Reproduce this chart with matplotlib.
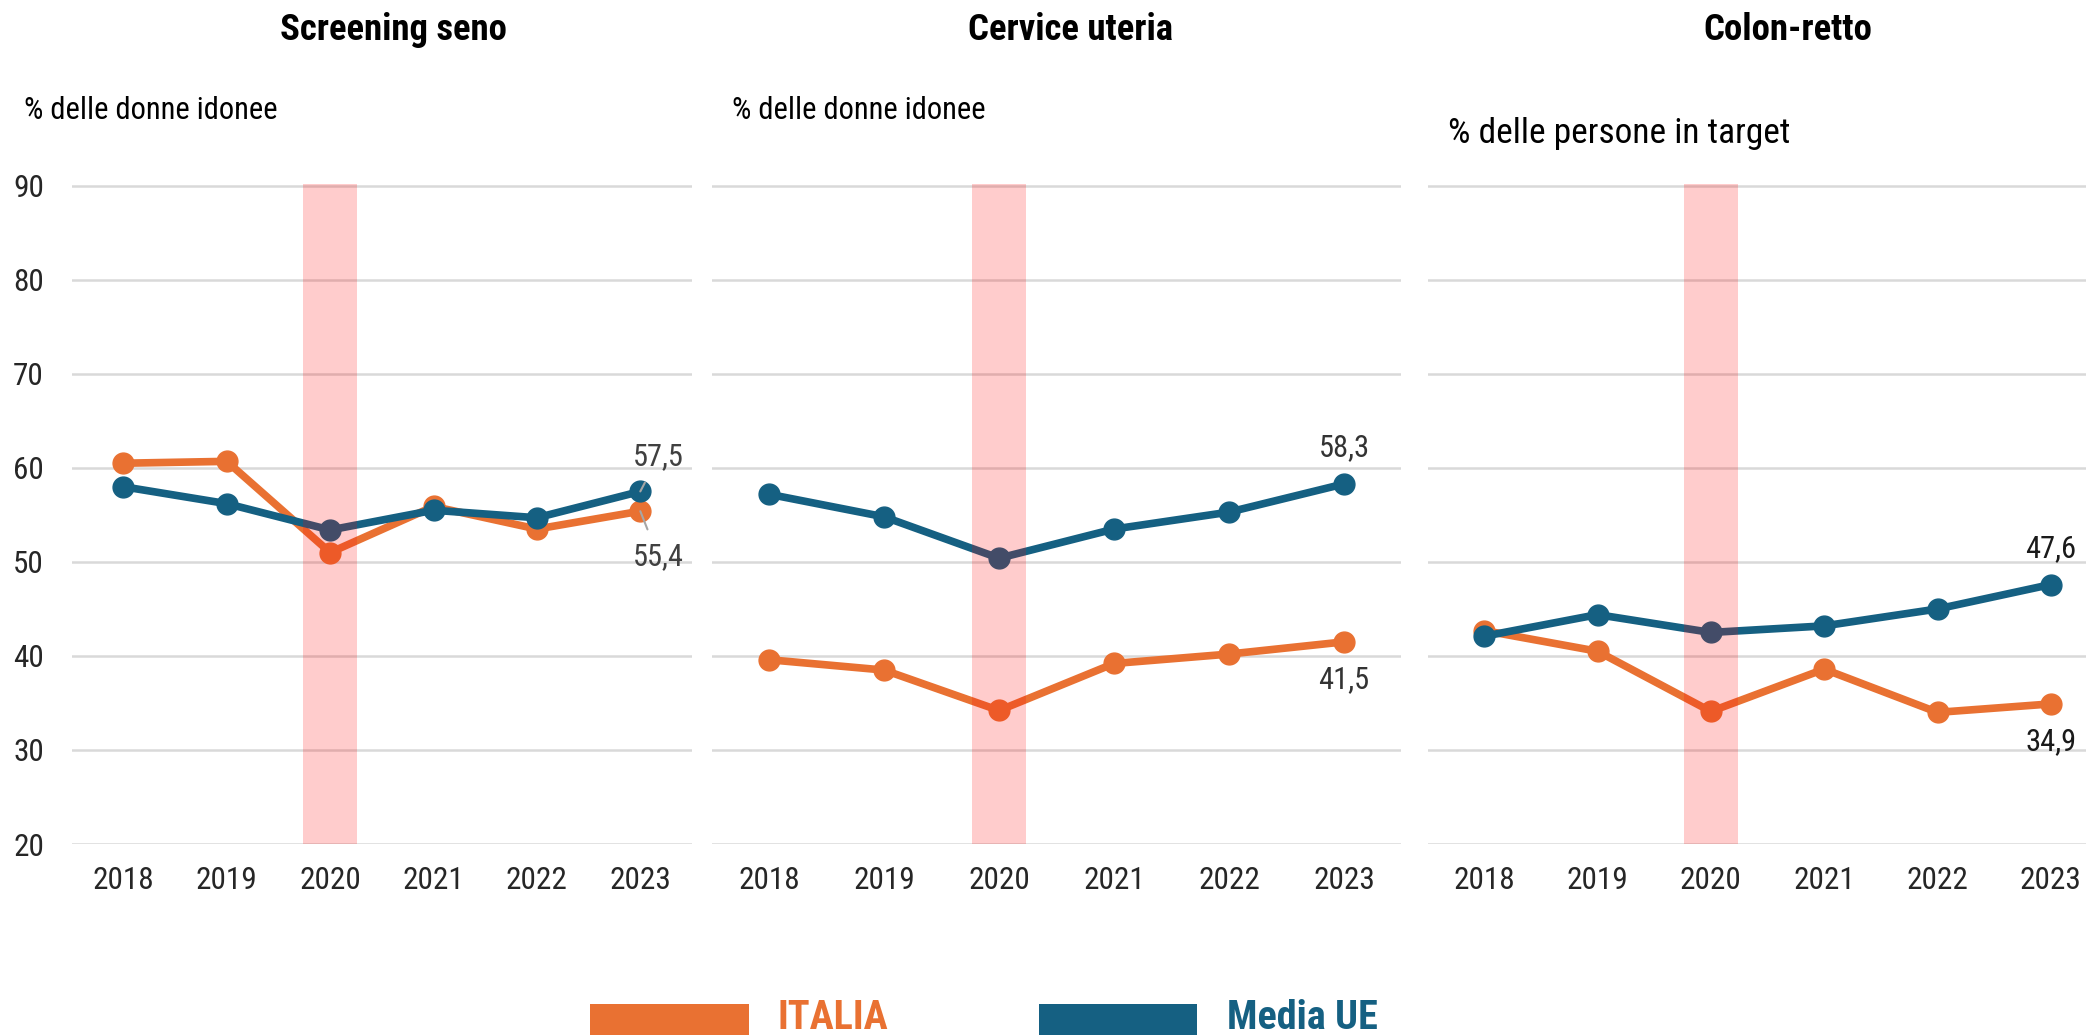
import matplotlib
matplotlib.use("Agg")
import matplotlib.pyplot as plt
from matplotlib.patches import Rectangle

plt.rcParams['font.family'] = ['Roboto Condensed', 'Liberation Sans', 'DejaVu Sans']

# dati
anni = ['2018', '2019', '2020', '2021', '2022', '2023']
seno_italia = [60.5, 60.7, 51.0, 55.9, 53.5, 55.4]
seno_ue = [58.0, 56.2, 53.4, 55.5, 54.7, 57.5]
cervice_italia = [39.6, 38.5, 34.2, 39.2, 40.2, 41.5]
cervice_ue = [57.2, 54.8, 50.4, 53.5, 55.3, 58.3]
colon_italia = [42.7, 40.5, 34.1, 38.6, 34.0, 34.9]
colon_ue = [42.1, 44.4, 42.5, 43.2, 45.0, 47.6]

titoli = ['Screening seno', 'Cervice uteria', 'Colon-retto']
etichette_y = ['% delle donne idonee', '% delle donne idonee', '% delle persone in target']
anno_covid = '2020'
yticks = [20, 30, 40, 50, 60, 70, 80, 90]

ARANCIO = '#E97132'
BLU = '#156082'
GRIGIO = '#D9D9D9'

W, H = 2086, 1035
fig = plt.figure(figsize=(W / 100, H / 100), dpi=100)

# posizioni dei pannelli in pixel: (sinistra, destra, xmax)
pannelli = [(71.7, 692.0, 5.5), (711.6, 1401.5, 5.5), (1427.5, 2086.0, 5.31)]
ax_bottom, ax_top = 844, 184
serie = [(seno_italia, seno_ue), (cervice_italia, cervice_ue), (colon_italia, colon_ue)]
col_testo = ['#404040', '#333333', '#1a1a1a']
titolo_x = [393, 1070, 1788]
label_pos = [(24, 119, 22), (732, 119, 22), (1448, 143, 25.5)]
FS = 22.5

for k, ((l, r, xmax), (ita, ue)) in enumerate(zip(pannelli, serie)):
    ax = fig.add_axes([l / W, 1 - ax_bottom / H, (r - l) / W, (ax_bottom - ax_top) / H])
    x = list(range(len(anni)))
    ax.set_xlim(-0.5, xmax)
    ax.set_ylim(20, 90.2)
    for y in yticks:
        ax.axhline(y, color=GRIGIO, lw=1.8, zorder=1)

    ax.plot(x, ita, color=ARANCIO, lw=5.5, marker='o', ms=15, zorder=3, solid_capstyle='round')
    ax.plot(x, ue, color=BLU, lw=5.5, marker='o', ms=15, zorder=4, solid_capstyle='round')

    # banda 2020 (larghezza ~54 px)
    i20 = anni.index(anno_covid)
    px_per_unit = (r - l) / (xmax + 0.5)
    half = 27 / px_per_unit
    ax.axvspan(i20 - half, i20 + half, ymin=0, ymax=1, color='red', alpha=0.2, lw=0, zorder=5)

    ax.set_xticks(x)
    ax.set_xticklabels(anni)
    ax.tick_params(axis='x', length=0, pad=16, labelsize=FS, labelcolor='#262626')
    if k == 0:
        ax.set_yticks(yticks)
        ax.tick_params(axis='y', length=0, pad=20, labelsize=FS, labelcolor='#262626')
    else:
        ax.set_yticks([])
    for s in ax.spines.values():
        s.set_visible(False)

    fmt = lambda v: f"{v:.1f}".replace('.', ',')
    c = col_testo[k]
    fa = 22
    if k == 0:
        ax.annotate(fmt(ue[-1]), xy=(x[-1], ue[-1]), xytext=(13, 25), textcoords='offset points',
                    ha='center', va='center', fontsize=fa, color=c, zorder=6,
                    arrowprops=dict(arrowstyle='-', color='#A6A6A6', lw=1.5, shrinkA=7, shrinkB=0))
        ax.annotate(fmt(ita[-1]), xy=(x[-1], ita[-1]), xytext=(13, -33), textcoords='offset points',
                    ha='center', va='center', fontsize=fa, color=c, zorder=6,
                    arrowprops=dict(arrowstyle='-', color='#A6A6A6', lw=1.5, shrinkA=8, shrinkB=0))
    else:
        ax.annotate(fmt(ue[-1]), xy=(x[-1], ue[-1]), xytext=(0, 26), textcoords='offset points',
                    ha='center', va='center', fontsize=fa, color=c, zorder=6)
        ax.annotate(fmt(ita[-1]), xy=(x[-1], ita[-1]), xytext=(0, -27.5), textcoords='offset points',
                    ha='center', va='center', fontsize=fa, color=c, zorder=6)

    fig.text(titolo_x[k] / W, 1 - 40 / H, titoli[k], ha='center', va='baseline',
             fontsize=26.5, fontweight='bold', color='black')
    lx, ly, fs = label_pos[k]
    fig.text(lx / W, 1 - ly / H, etichette_y[k], ha='left', va='baseline', fontsize=fs, color='black')

# legenda
for (x0, x1, col, txt, tx) in [(590, 749, ARANCIO, 'ITALIA', 777), (1039, 1197, BLU, 'Media UE', 1227)]:
    fig.patches.append(Rectangle((x0 / W, 1 - 1035 / H), (x1 - x0) / W, 31 / H,
                                 transform=fig.transFigure, color=col, lw=0))
    fig.text(tx / W, 1 - 1029 / H, txt, ha='left', va='baseline', fontsize=29,
             fontweight='bold', color=col)

fig.savefig('out.png', dpi=100)
